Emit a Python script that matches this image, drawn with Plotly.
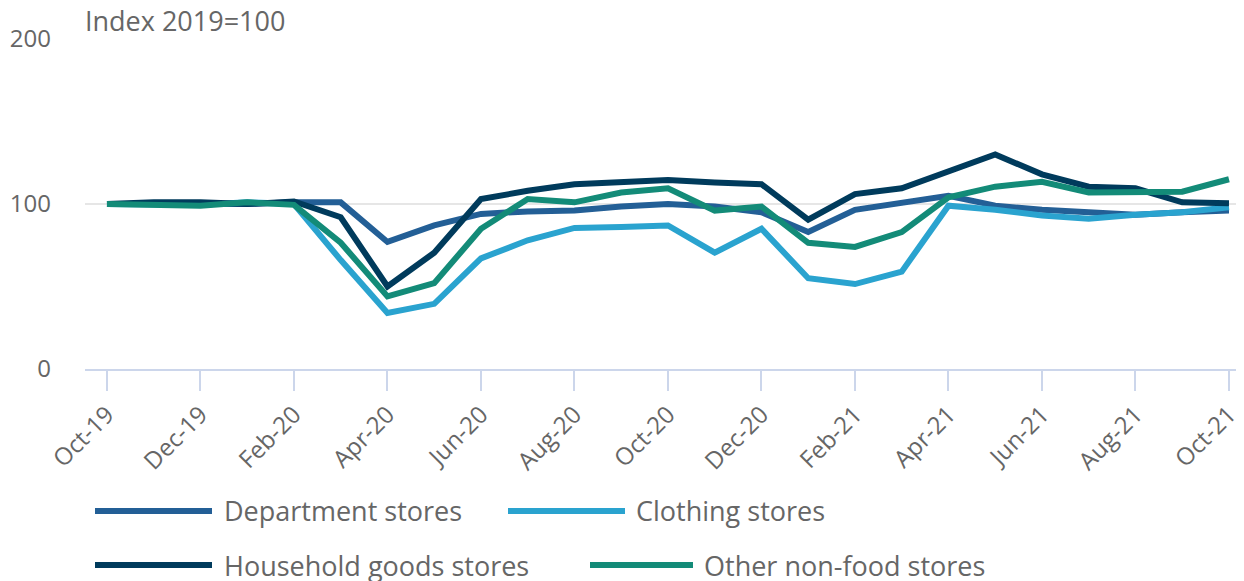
import plotly.graph_objects as go

months = ["Oct-19", "Nov-19", "Dec-19", "Jan-20", "Feb-20", "Mar-20", "Apr-20", "May-20",
          "Jun-20", "Jul-20", "Aug-20", "Sep-20", "Oct-20", "Nov-20", "Dec-20", "Jan-21",
          "Feb-21", "Mar-21", "Apr-21", "May-21", "Jun-21", "Jul-21", "Aug-21", "Sep-21", "Oct-21"]

department = [100, 100, 100, 100, 101, 101, 77, 87, 94, 95.5, 96, 98.5, 100, 98.5, 95, 83,
              96.5, 101, 105, 99, 96.5, 95, 93.5, 95, 96]
clothing = [100, 100, 99.5, 101, 100, 66, 34, 39.5, 67, 78, 85.5, 86, 87, 70.5, 85, 55,
            51.5, 59, 99, 96.5, 93, 91, 93.5, 95, 98]
household = [100, 101, 101, 100, 101.5, 92, 50, 70.5, 103, 108, 112, 113, 114.5, 113, 112, 90.5,
             106, 109.5, 120, 130, 118, 110.5, 109.5, 101, 100.5]
other = [100, 99.5, 99, 101, 99.5, 76.5, 44, 52, 85, 103, 101, 107, 109.5, 96, 98.5, 76.5,
         74, 83, 104, 110.5, 113.5, 107, 107.5, 107.5, 115]

series_names = ["Department stores", "Clothing stores", "Household goods stores", "Other non-food stores"]
series_values = [department, clothing, household, other]
colors = ["#235f96", "#2aa3cf", "#003b5c", "#138b78"]

tick_labels = months[::2]
y_ticks = [0, 100, 200]

FONT = "Open Sans, Noto Sans, sans-serif"
TEXT = "#666666"

OFF = 8  # page body margin
W, H = 1244 - OFF, 581 - OFF
L, T = 85 - OFF, 39 - OFF
PLOT_RIGHT, PLOT_BOTTOM = 1243 - OFF, 369 - OFF
R, B = W - PLOT_RIGHT, H - PLOT_BOTTOM
PW, PH = W - L - R, H - T - B

def px_x(px):
    return (px - OFF - L) / PW

def px_y(py):
    return (PLOT_BOTTOM - (py - OFF)) / PH

fig = go.Figure()
for name, vals, col in zip(series_names, series_values, colors):
    fig.add_trace(go.Scatter(
        x=list(range(len(months))), y=vals, name=name, mode="lines",
        line=dict(color=col, width=6), showlegend=False,
    ))

# custom legend (long line symbols), positions in page pixels
legend_pos = [(95, 212, 222, 511), (508, 625, 634, 511), (95, 212, 222, 565), (590, 693, 702, 565)]
shapes = []
annotations = []
for (x0, x1, xt, yy), name, col in zip(legend_pos, series_names, colors):
    shapes.append(dict(type="line", xref="paper", yref="paper",
                       x0=px_x(x0), x1=px_x(x1), y0=px_y(yy), y1=px_y(yy),
                       line=dict(color=col, width=6)))
    annotations.append(dict(xref="paper", yref="paper", x=px_x(xt), y=px_y(yy),
                            xanchor="left", yanchor="middle", text=name, showarrow=False,
                            font=dict(family=FONT, size=27, color=TEXT)))

annotations.append(dict(xref="paper", yref="paper", x=0, y=1, xanchor="left", yanchor="bottom",
                        xshift=-2, yshift=-2, text="Index 2019=100", showarrow=False,
                        font=dict(family=FONT, size=27, color=TEXT)))

fig.update_layout(
    width=W, height=H,
    margin=dict(l=L, r=R, t=T, b=B, pad=0),
    paper_bgcolor="white", plot_bgcolor="white",
    font=dict(family=FONT, color=TEXT),
    showlegend=False,
    shapes=shapes, annotations=annotations,
    xaxis=dict(
        range=[-0.47, 24.3],
        tickmode="array",
        tickvals=list(range(0, len(months), 2)),
        ticktext=tick_labels,
        tickangle=-45,
        tickfont=dict(family=FONT, size=24, color=TEXT),
        ticks="outside", ticklen=20, tickcolor="#ccd6eb", tickwidth=2,
        showline=True, linecolor="#ccd6eb", linewidth=2,
        showgrid=False, zeroline=False,
    ),
    yaxis=dict(
        range=[0, 200],
        tickmode="array", tickvals=y_ticks,
        tickfont=dict(family=FONT, size=24, color=TEXT),
        showgrid=True, gridcolor="#e6e6e6", gridwidth=2,
        zeroline=False, showline=False,
        ticklabelstandoff=33,
    ),
)

fig.write_html("out.html")
